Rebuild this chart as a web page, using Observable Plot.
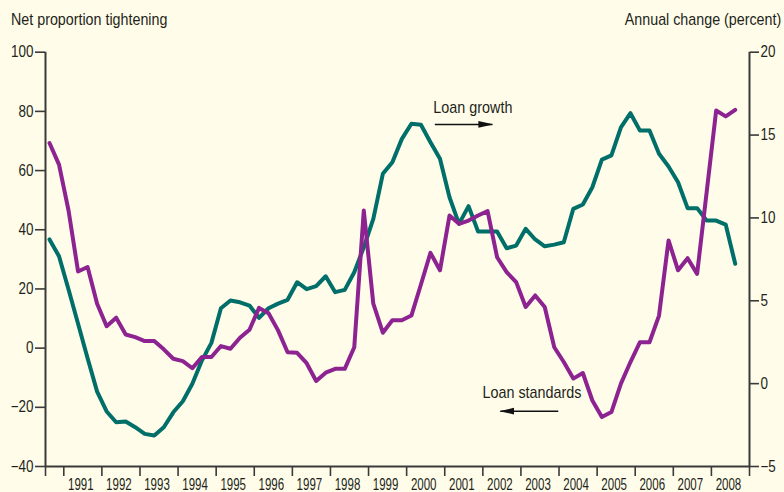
<!DOCTYPE html>
<html>
<head>
<meta charset="utf-8">
<script src="https://cdn.jsdelivr.net/npm/d3@7"></script>
<script src="https://cdn.jsdelivr.net/npm/@observablehq/plot@0.6"></script>
<style>
  html, body { margin: 0; padding: 0; background: #fffde9; }
  body { width: 784px; height: 492px; overflow: hidden;
         font-family: "Liberation Sans", Arial, sans-serif;
         color: #231f20; }
  #header { position: relative; height: 36px; font-size: 17px; line-height: 20px; }
  #header span { position: absolute; top: 10px; white-space: nowrap; }
  #lt { transform: scaleX(0.84); transform-origin: left center; }
  #rt { transform: scaleX(0.84); transform-origin: right center; }
  #chart svg { display: block; }
</style>
</head>
<body>
<div id="header">
  <span id="lt" style="left:11px">Net proportion tightening</span>
  <span id="rt" style="right:3px">Annual change (percent)</span>
</div>
<div id="chart"></div>
<script>
// ---- data (quarterly, starting 1990 Q3) ----
const firstQuarterMid = 1990.625;
const loanStandards = [ // net proportion tightening (left axis)
  69.3, 62.0, 46.5, 25.9, 27.4, 15.0, 7.4, 10.3, 4.6, 3.7,
  2.4, 2.4, -0.4, -3.6, -4.4, -6.8, -3.0, -3.0, 0.7, -0.2,
  3.5, 6.2, 13.6, 11.8, 6.0, -1.4, -1.6, -5.1, -11.1, -8.3,
  -7.0, -7.0, 0.3, 46.5, 15.0, 5.2, 9.4, 9.4, 11.0, 21.5,
  32.2, 26.3, 44.8, 42.0, 43.1, 44.8, 46.3, 30.7, 25.7, 22.3,
  13.9, 17.8, 13.9, 0.3, -4.7, -10.3, -8.4, -17.7, -23.3, -21.6,
  -12.0, -4.7, 2.0, 2.0, 11.0, 36.4, 26.3, 30.4, 25.1, 52.7,
  80.3, 78.3, 80.5
];
const loanGrowth = [ // annual change, percent (right axis)
  8.70, 7.69, 5.68, 3.61, 1.53, -0.48, -1.68, -2.33, -2.29, -2.63,
  -3.03, -3.13, -2.63, -1.73, -1.06, -0.01, 1.39, 2.46, 4.55, 5.02,
  4.91, 4.71, 3.97, 4.55, 4.83, 5.06, 6.12, 5.70, 5.88, 6.48,
  5.52, 5.66, 6.72, 8.23, 9.94, 12.66, 13.36, 14.77, 15.68, 15.62,
  14.57, 13.57, 11.25, 9.64, 10.71, 9.18, 9.18, 9.18, 8.17, 8.33,
  9.34, 8.70, 8.29, 8.39, 8.53, 10.55, 10.81, 11.85, 13.52, 13.77,
  15.47, 16.32, 15.27, 15.27, 13.87, 13.10, 12.15, 10.59, 10.59, 9.84,
  9.84, 9.60, 7.23
];
const yearLabels = [1991, 1992, 1993, 1994, 1995, 1996, 1997, 1998, 1999,
  2000, 2001, 2002, 2003, 2004, 2005, 2006, 2007, 2008];
const leftTicks = [-40, -20, 0, 20, 40, 60, 80, 100];
const rightTicks = [-5, 0, 5, 10, 15, 20];

// ---- scales ----
const xDomain = [1990.52, 2009];
const leftDomain = [-40, 100];
const rightDomain = [-5, 20];
const toLeft = v => leftDomain[0] + (v - rightDomain[0]) * (leftDomain[1] - leftDomain[0]) / (rightDomain[1] - rightDomain[0]);
const fromLeft = d => rightDomain[0] + (d - leftDomain[0]) * (rightDomain[1] - rightDomain[0]) / (leftDomain[1] - leftDomain[0]);
const minus = v => (v < 0 ? "\u2212" + Math.abs(v) : String(v));

const standardsData = loanStandards.map((v, i) => ({t: firstQuarterMid + i * 0.25, v}));
const growthData = loanGrowth.map((v, i) => ({t: firstQuarterMid + i * 0.25, v: toLeft(v)}));

const PURPLE = "#8c2391";
const TEAL = "#006e69";
const INK = "#231f20";
const AXIS = "#3a3a3a";

// annotations
const notes = [
  {label: "Loan growth", x: 2000.70, y: 81.3},
  {label: "Loan standards", x: 2001.99, y: -15.0}
];
const arrows = [
  {x1: 2000.74, x2: 2002.25, y: 75.6},
  {x1: 2003.98, x2: 2002.46, y: -21.3}
];

function filledArrow(color) {
  const m = d3.create("svg:marker")
    .attr("viewBox", "0 -4 15 8")
    .attr("markerWidth", 15).attr("markerHeight", 8)
    .attr("markerUnits", "userSpaceOnUse")
    .attr("refX", 14).attr("refY", 0)
    .attr("orient", "auto")
    .attr("fill", color).attr("stroke", "none");
  m.append("path").attr("d", "M0,-3.4L15,0L0,3.4Z");
  return m.node();
}

const xTickPositions = [xDomain[0], ...yearLabels, xDomain[1]];

const chart = Plot.plot({
  width: 784,
  height: 456,
  marginTop: 15.7,
  marginBottom: 26,
  marginLeft: 45,
  marginRight: 35,
  style: {
    background: "transparent",
    fontFamily: '"Liberation Sans", Arial, sans-serif',
    fontSize: "16px",
    color: INK,
    overflow: "visible"
  },
  x: {domain: xDomain},
  y: {domain: leftDomain},
  marks: [
    // x tick marks at year boundaries
    Plot.axisX({ticks: xTickPositions, tickSize: 10, tickFormat: () => "", stroke: AXIS, strokeWidth: 1.6}),
    // year labels centred in each year
    Plot.axisX({ticks: yearLabels.map(y => y + 0.5), tickSize: 0, tickPadding: 12,
                tickFormat: d => String(Math.floor(d)), dx: -2}),
    // left axis
    Plot.axisY({anchor: "left", ticks: leftTicks, tickSize: 10, tickPadding: 2,
                tickFormat: minus, stroke: AXIS, strokeWidth: 1.6, label: null}),
    // right axis
    Plot.axisY({anchor: "right", ticks: rightTicks.map(toLeft), tickSize: 9, tickPadding: 2,
                tickFormat: d => minus(Math.round(fromLeft(d))), stroke: AXIS, strokeWidth: 1.6, label: null}),
    // axis lines
    Plot.ruleX([xDomain[0], xDomain[1]], {y1: leftDomain[0], y2: leftDomain[1], stroke: AXIS, strokeWidth: 2}),
    Plot.ruleY([leftDomain[0]], {x1: xDomain[0], x2: xDomain[1], stroke: AXIS, strokeWidth: 2}),
    // series
    Plot.line(growthData, {x: "t", y: "v", stroke: TEAL, strokeWidth: 4, strokeLinejoin: "round"}),
    Plot.line(standardsData, {x: "t", y: "v", stroke: PURPLE, strokeWidth: 4, strokeLinejoin: "round"}),
    // annotations
    Plot.text(notes, {x: "x", y: "y", text: "label", textAnchor: "start", fontSize: 17, fill: INK}),
    Plot.link(arrows, {x1: "x1", x2: "x2", y1: "y", y2: "y", stroke: "#111", strokeWidth: 1.5, markerEnd: filledArrow})
  ]
});

document.getElementById("chart").appendChild(chart);

// condense glyphs to mimic the narrow typeface of the original
function condense(selector, factor) {
  chart.querySelectorAll(selector).forEach(el => {
    const len = el.getComputedTextLength();
    if (len > 0) {
      el.setAttribute("textLength", (len * factor).toFixed(2));
      el.setAttribute("lengthAdjust", "spacingAndGlyphs");
    }
  });
}
condense('g[aria-label="x-axis tick label"] text', 0.72);
condense('g[aria-label="y-axis tick label"] text', 0.84);
condense('g[aria-label="text"] text', 0.845);
</script>
</body>
</html>
